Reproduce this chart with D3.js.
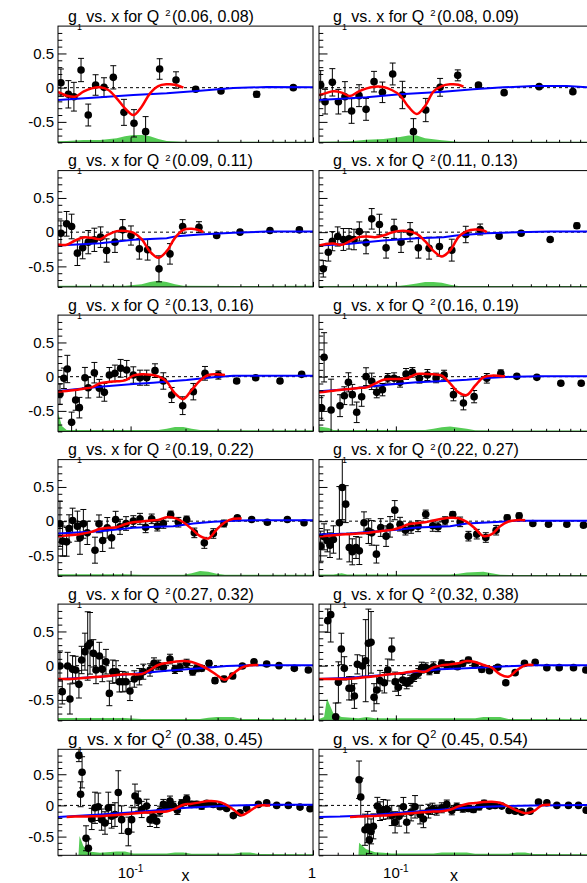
<!DOCTYPE html>
<html>
<head>
<meta charset="utf-8">
<script src="https://cdn.jsdelivr.net/npm/d3@7"></script>
<style>
  body { margin: 0; background: #fff; }
  svg { display: block; }
</style>
</head>
<body>
<svg id="chart" width="587" height="883"></svg>
<script>
// Q^2 bins, one panel each (GeV^2)
const q2Bins = [[0.06,0.08],[0.08,0.09],[0.09,0.11],[0.11,0.13],[0.13,0.16],[0.16,0.19],
                [0.19,0.22],[0.22,0.27],[0.27,0.32],[0.32,0.38],[0.38,0.45],[0.45,0.54]];

// measured g1 points: [x, g1, stat. error]
const points_1 = [[0.0415,0.073,0.20],[0.0456,-0.097,0.20],[0.0489,-0.132,0.21],[0.0535,0.258,0.17],[0.0586,-0.400,0.16],[0.0643,0.039,0.15],[0.0715,0.005,0.14],[0.0804,0.151,0.17],[0.0920,-0.361,0.19],[0.1044,-0.521,0.20],[0.1209,-0.643,0.22],[0.1443,0.273,0.15],[0.1774,0.112,0.12],[0.2275,-0.024,0.03],[0.313,-0.049,0.03],[0.491,-0.097,0.04],[0.780,0.0,0.03]];
const points_2 = [[0.0408,0.039,0.21],[0.0430,-0.205,0.18],[0.0469,0.078,0.20],[0.0504,-0.205,0.18],[0.0545,-0.132,0.22],[0.0590,-0.341,0.18],[0.0645,-0.117,0.16],[0.0701,-0.317,0.16],[0.0771,0.088,0.15],[0.0852,-0.068,0.15],[0.0963,0.200,0.16],[0.1081,-0.107,0.20],[0.1233,-0.643,0.19],[0.1428,-0.327,0.17],[0.1694,0.005,0.13],[0.2092,0.180,0.08],[0.2677,0.039,0.03],[0.3636,-0.073,0.03],[0.552,0.015,0.03],[0.825,-0.058,0.03]];
const points_3 = [[0.0415,-0.015,0.18],[0.0446,0.122,0.18],[0.0475,0.083,0.18],[0.0511,-0.307,0.18],[0.0546,-0.229,0.16],[0.0586,-0.146,0.17],[0.0633,-0.112,0.17],[0.0685,-0.073,0.15],[0.0739,-0.268,0.17],[0.0821,-0.146,0.15],[0.0905,0.034,0.15],[0.1005,-0.049,0.14],[0.1117,-0.244,0.15],[0.124,-0.258,0.15],[0.1431,-0.536,0.19],[0.1644,-0.317,0.15],[0.1929,0.083,0.10],[0.2371,0.073,0.08],[0.2964,-0.049,0.03],[0.398,0.0,0.03],[0.581,0.024,0.03],[0.842,0.034,0.03]];
const points_4 = [[0.0421,-0.536,0.12],[0.0447,-0.293,0.13],[0.0469,-0.132,0.14],[0.0500,-0.063,0.14],[0.0535,-0.107,0.16],[0.0572,-0.097,0.15],[0.0607,-0.107,0.15],[0.0647,0.010,0.14],[0.0701,-0.156,0.16],[0.0750,0.195,0.15],[0.0822,0.112,0.15],[0.0890,-0.229,0.15],[0.0979,0.049,0.14],[0.1064,-0.146,0.15],[0.1185,0.0,0.14],[0.1308,-0.229,0.15],[0.1486,-0.234,0.16],[0.1681,-0.210,0.14],[0.1948,-0.263,0.16],[0.2301,-0.034,0.12],[0.2731,0.039,0.08],[0.3425,-0.058,0.03],[0.4453,-0.015,0.03],[0.6295,-0.107,0.03],[0.8652,0.093,0.04]];
const points_5 = [[0.0410,-0.253,0.15],[0.0431,-0.024,0.15],[0.0450,0.112,0.20],[0.0475,-0.668,0.15],[0.0500,-0.341,0.15],[0.0524,-0.453,0.15],[0.0562,-0.015,0.15],[0.0586,-0.161,0.15],[0.0633,0.058,0.15],[0.0674,-0.170,0.13],[0.0718,-0.229,0.13],[0.0765,0.024,0.11],[0.0821,0.049,0.12],[0.0882,0.122,0.13],[0.0952,0.097,0.14],[0.1035,0.024,0.12],[0.1126,-0.015,0.11],[0.1225,-0.015,0.11],[0.1361,0.088,0.10],[0.1512,-0.063,0.12],[0.1680,-0.268,0.11],[0.1930,-0.424,0.13],[0.2208,-0.219,0.12],[0.2558,0.049,0.10],[0.3027,0.024,0.06],[0.3815,-0.063,0.03],[0.485,-0.015,0.03],[0.6594,-0.063,0.03],[0.8667,0.034,0.03]];
const points_6 = [[0.0413,-0.458,0.18],[0.0425,0.283,0.36],[0.0462,-0.487,0.45],[0.0514,-0.424,0.16],[0.0541,-0.278,0.13],[0.0568,-0.083,0.14],[0.0595,-0.263,0.15],[0.0627,-0.521,0.15],[0.0665,-0.293,0.14],[0.0701,0.0,0.13],[0.0750,-0.068,0.12],[0.0796,-0.229,0.08],[0.0852,-0.190,0.09],[0.0908,-0.024,0.07],[0.0979,-0.024,0.08],[0.1051,-0.083,0.07],[0.1129,0.039,0.08],[0.1218,0.063,0.07],[0.1324,-0.024,0.07],[0.1457,0.024,0.08],[0.1615,-0.019,0.07],[0.1777,0.024,0.07],[0.1987,-0.263,0.09],[0.2238,-0.385,0.10],[0.2542,-0.292,0.09],[0.2957,-0.024,0.07],[0.3494,0.049,0.05],[0.4230,0.005,0.03],[0.537,-0.010,0.03],[0.7149,-0.097,0.03],[0.9112,-0.097,0.03]];
const points_7 = [[0.0410,-0.039,0.33],[0.0424,-0.292,0.22],[0.0446,-0.302,0.21],[0.0460,-0.107,0.20],[0.0481,0.010,0.18],[0.0511,-0.073,0.22],[0.0528,-0.244,0.24],[0.0551,-0.039,0.21],[0.0579,-0.171,0.17],[0.0638,-0.424,0.19],[0.0671,-0.039,0.13],[0.0703,-0.283,0.16],[0.0745,-0.097,0.15],[0.0787,-0.244,0.15],[0.0828,0.024,0.12],[0.0875,-0.083,0.11],[0.0944,-0.034,0.10],[0.1035,0.0,0.08],[0.1126,0.034,0.08],[0.1209,-0.088,0.08],[0.1305,0.034,0.07],[0.1402,-0.073,0.07],[0.1512,-0.034,0.07],[0.1658,0.097,0.05],[0.1827,-0.015,0.07],[0.2029,0.024,0.05],[0.2236,-0.171,0.07],[0.2537,-0.317,0.08],[0.2842,-0.180,0.07],[0.3252,-0.034,0.05],[0.3848,0.049,0.03],[0.4611,0.024,0.03],[0.5619,-0.015,0.03],[0.7234,0.024,0.03],[0.8928,-0.024,0.03]];
const points_8 = [[0.0408,-0.366,0.22],[0.0425,-0.229,0.19],[0.0442,-0.288,0.16],[0.0456,-0.351,0.18],[0.0475,-0.268,0.20],[0.0510,-0.024,0.53],[0.0528,0.492,0.47],[0.0550,0.249,0.27],[0.0574,-0.385,0.21],[0.0595,-0.448,0.19],[0.0622,-0.385,0.16],[0.0647,-0.434,0.20],[0.0684,-0.024,0.16],[0.0721,-0.146,0.18],[0.0750,-0.171,0.18],[0.0793,-0.482,0.13],[0.0835,-0.093,0.13],[0.0890,-0.219,0.15],[0.0933,-0.083,0.15],[0.0987,0.161,0.14],[0.1051,-0.044,0.10],[0.1121,-0.132,0.07],[0.1199,-0.097,0.08],[0.1303,-0.073,0.08],[0.1428,0.102,0.06],[0.1552,-0.068,0.08],[0.1654,-0.083,0.07],[0.1798,0.005,0.06],[0.1970,0.097,0.04],[0.2151,-0.010,0.07],[0.2376,-0.219,0.07],[0.2624,-0.190,0.07],[0.2922,-0.239,0.07],[0.3305,-0.132,0.07],[0.3770,0.049,0.04],[0.4348,0.078,0.04],[0.5119,-0.034,0.03],[0.6171,-0.044,0.03],[0.7678,-0.044,0.03],[0.9367,-0.058,0.03]];
const points_9 = [[0.0410,-0.005,0.22],[0.0422,-0.380,0.18],[0.0452,-0.005,0.20],[0.0465,-0.487,0.22],[0.0481,-0.054,0.20],[0.0500,-0.063,0.20],[0.0521,-0.273,0.20],[0.0539,0.083,0.20],[0.0562,0.205,0.27],[0.0582,0.288,0.50],[0.0599,0.327,0.45],[0.0625,0.180,0.20],[0.0646,-0.063,0.20],[0.0674,0.141,0.20],[0.0700,-0.054,0.18],[0.0733,0.058,0.18],[0.0765,-0.405,0.18],[0.0798,-0.088,0.17],[0.0832,-0.088,0.16],[0.0868,-0.234,0.15],[0.0905,-0.234,0.15],[0.0944,-0.234,0.14],[0.0992,-0.370,0.14],[0.1048,-0.195,0.12],[0.1117,-0.161,0.12],[0.1174,-0.088,0.11],[0.1278,-0.063,0.09],[0.1344,0.034,0.08],[0.1419,0.010,0.07],[0.1512,-0.024,0.06],[0.1644,0.097,0.07],[0.1751,-0.054,0.06],[0.1866,-0.024,0.06],[0.2029,0.034,0.06],[0.2189,-0.088,0.05],[0.2302,-0.039,0.05],[0.2453,-0.039,0.04],[0.2691,0.034,0.04],[0.2902,-0.219,0.04],[0.3252,-0.195,0.04],[0.3628,-0.151,0.04],[0.4100,-0.005,0.03],[0.4749,0.058,0.03],[0.5572,0.024,0.03],[0.6511,0.0,0.03],[0.7900,-0.039,0.03],[0.9428,-0.063,0.03]];
const points_10 = [[0.0444,0.658,0.17],[0.0460,0.746,0.40],[0.0488,-0.746,0.20],[0.0504,-0.244,0.30],[0.0522,0.244,0.23],[0.0541,-0.039,0.17],[0.0572,-0.331,0.17],[0.0590,-0.331,0.17],[0.0610,-0.444,0.18],[0.0632,0.019,0.14],[0.0671,-0.005,0.15],[0.0698,0.073,0.60],[0.0721,0.327,0.50],[0.0744,0.341,0.45],[0.0771,-0.463,0.20],[0.0796,-0.356,0.20],[0.0828,-0.219,0.15],[0.0872,-0.249,0.15],[0.0908,-0.063,0.16],[0.0952,0.244,0.16],[0.0991,-0.234,0.14],[0.1031,-0.317,0.12],[0.1085,-0.209,0.08],[0.1138,-0.258,0.08],[0.1185,-0.219,0.08],[0.1243,-0.161,0.07],[0.1308,-0.112,0.07],[0.1361,-0.029,0.08],[0.1428,-0.029,0.07],[0.1492,-0.073,0.06],[0.1565,-0.015,0.07],[0.1628,-0.063,0.05],[0.1728,0.034,0.05],[0.1835,0.010,0.05],[0.1948,0.019,0.04],[0.2084,-0.015,0.04],[0.2221,0.034,0.04],[0.2376,0.083,0.04],[0.2573,0.010,0.04],[0.2786,-0.054,0.04],[0.3053,-0.073,0.03],[0.3372,-0.024,0.03],[0.3709,-0.249,0.03],[0.4146,-0.102,0.03],[0.4634,0.034,0.03],[0.5264,0.049,0.03],[0.6050,-0.029,0.03],[0.7008,-0.029,0.03],[0.8314,-0.029,0.03],[0.9632,-0.063,0.03]];
const points_11 = [[0.0521,0.802,0.10],[0.0532,0.179,0.20],[0.0542,0.531,0.25],[0.0570,-0.527,0.20],[0.0587,-0.688,0.15],[0.0612,-0.217,0.17],[0.0638,-0.038,0.25],[0.0665,-0.022,0.22],[0.0694,-0.228,0.17],[0.0724,-0.282,0.18],[0.0755,-0.038,0.25],[0.0787,-0.174,0.19],[0.0821,-0.147,0.19],[0.0856,0.206,0.35],[0.0893,-0.228,0.22],[0.0972,-0.418,0.23],[0.1013,-0.228,0.20],[0.1057,0.152,0.19],[0.1102,0.070,0.16],[0.1150,-0.065,0.13],[0.1225,-0.011,0.11],[0.1278,-0.228,0.11],[0.1332,-0.184,0.10],[0.1390,-0.255,0.10],[0.1449,-0.092,0.08],[0.1512,0.016,0.08],[0.1577,-0.022,0.07],[0.1644,0.070,0.08],[0.1715,-0.011,0.07],[0.1804,-0.076,0.07],[0.1905,0.033,0.06],[0.2029,0.108,0.06],[0.2161,0.016,0.05],[0.2302,0.016,0.05],[0.2453,-0.011,0.05],[0.2612,0.033,0.04],[0.2842,0.016,0.04],[0.3091,-0.022,0.04],[0.3363,-0.049,0.03],[0.3658,-0.163,0.03],[0.3979,-0.119,0.03],[0.4328,-0.049,0.03],[0.5015,0.016,0.03],[0.5572,0.043,0.03],[0.6322,0.0,0.03],[0.7326,0.0,0.03],[0.8488,-0.027,0.03],[0.9630,-0.054,0.03]];
const points_12 = [[0.0645,0.412,0.30],[0.0658,0.136,0.30],[0.0692,-0.390,0.25],[0.0715,-0.347,0.25],[0.0729,-0.553,0.22],[0.0744,-0.417,0.20],[0.0765,-0.336,0.20],[0.0802,-0.011,0.14],[0.0828,-0.092,0.15],[0.0862,-0.065,0.16],[0.0904,-0.065,0.15],[0.0952,-0.163,0.16],[0.0991,-0.271,0.17],[0.1039,-0.173,0.16],[0.1094,-0.022,0.15],[0.1138,-0.271,0.17],[0.1199,-0.108,0.14],[0.1257,-0.022,0.18],[0.1335,-0.147,0.15],[0.1389,-0.217,0.14],[0.1474,-0.092,0.11],[0.1546,-0.054,0.09],[0.1628,-0.076,0.08],[0.1729,-0.038,0.08],[0.1835,0.016,0.07],[0.1948,-0.081,0.07],[0.2067,-0.022,0.06],[0.2221,-0.049,0.06],[0.2376,-0.049,0.05],[0.2522,-0.065,0.05],[0.2698,-0.022,0.05],[0.2864,0.033,0.05],[0.3053,-0.011,0.04],[0.3266,0.0,0.04],[0.3536,-0.011,0.03],[0.3859,-0.081,0.03],[0.4146,-0.092,0.03],[0.4488,-0.108,0.03],[0.4958,-0.092,0.03],[0.5477,0.054,0.03],[0.6050,0.043,0.03],[0.6816,0.0,0.03],[0.7832,0.0,0.03],[0.8826,0.0,0.03],[0.9672,-0.076,0.03]];

// resonance-region fit (red): [x, g1]
const redCurve_1 = [[0.040,-0.063],[0.0446,-0.117],[0.0496,-0.132],[0.0551,-0.058],[0.0612,-0.010],[0.0680,0.005],[0.0755,-0.034],[0.0839,-0.156],[0.0932,-0.302],[0.1035,-0.400],[0.1150,-0.278],[0.1278,-0.083],[0.1419,0.024],[0.1577,0.049],[0.1751,0.044],[0.1946,0.0]];
const redCurve_2 = [[0.040,-0.107],[0.0430,-0.083],[0.0475,-0.054],[0.0524,-0.073],[0.0579,-0.122],[0.0640,-0.058],[0.0706,-0.010],[0.0780,0.015],[0.0862,0.010],[0.0952,-0.034],[0.1051,-0.112],[0.1161,-0.278],[0.1283,-0.385],[0.1417,-0.268],[0.1565,-0.058],[0.1729,0.024],[0.1909,0.049],[0.2109,0.044],[0.2238,0.015]];
const redCurve_3 = [[0.040,-0.180],[0.0446,-0.185],[0.0496,-0.122],[0.0551,-0.078],[0.0612,-0.083],[0.0680,-0.102],[0.0755,-0.034],[0.0839,0.015],[0.0932,0.019],[0.1035,-0.005],[0.1150,-0.102],[0.1278,-0.283],[0.1419,-0.375],[0.1577,-0.278],[0.1751,-0.083],[0.1946,0.034],[0.2161,0.049],[0.2402,0.024],[0.2505,0.0]];
const redCurve_4 = [[0.040,-0.195],[0.0430,-0.175],[0.0475,-0.166],[0.0524,-0.185],[0.0579,-0.132],[0.0640,-0.073],[0.0706,-0.063],[0.0780,-0.073],[0.0862,-0.049],[0.0952,-0.005],[0.1051,0.019],[0.1161,0.015],[0.1283,-0.024],[0.1417,-0.132],[0.1565,-0.273],[0.1729,-0.356],[0.1909,-0.268],[0.2109,-0.073],[0.2329,0.015],[0.2573,0.039],[0.2841,0.024],[0.2957,0.0]];
const redCurve_5 = [[0.040,-0.219],[0.0446,-0.210],[0.0496,-0.195],[0.0551,-0.175],[0.0612,-0.156],[0.0680,-0.097],[0.0755,-0.078],[0.0839,-0.068],[0.0932,-0.054],[0.1035,0.015],[0.1150,0.034],[0.1278,0.029],[0.1419,0.005],[0.1577,-0.073],[0.1751,-0.244],[0.1946,-0.327],[0.2161,-0.195],[0.2402,-0.058],[0.2668,0.024],[0.2964,0.034],[0.3292,0.024]];
const redCurve_6 = [[0.040,-0.229],[0.0430,-0.219],[0.0475,-0.205],[0.0524,-0.190],[0.0579,-0.180],[0.0640,-0.166],[0.0706,-0.156],[0.0780,-0.102],[0.0862,-0.044],[0.0952,-0.034],[0.1051,-0.034],[0.1161,-0.015],[0.1283,0.039],[0.1417,0.039],[0.1565,0.034],[0.1729,0.015],[0.1909,-0.097],[0.2109,-0.229],[0.2329,-0.268],[0.2573,-0.132],[0.2841,-0.010],[0.3139,0.015],[0.3467,0.010],[0.3680,0.005]];
const redCurve_7 = [[0.040,-0.219],[0.0446,-0.210],[0.0496,-0.200],[0.0551,-0.180],[0.0612,-0.156],[0.0680,-0.112],[0.0755,-0.097],[0.0839,-0.088],[0.0932,-0.044],[0.1035,-0.015],[0.1150,-0.005],[0.1278,0.010],[0.1419,0.019],[0.1577,0.058],[0.1751,0.044],[0.1946,-0.015],[0.2161,-0.112],[0.2402,-0.219],[0.2668,-0.253],[0.2964,-0.122],[0.3292,-0.015],[0.3658,0.034],[0.4064,0.039]];
const redCurve_8 = [[0.040,-0.219],[0.0430,-0.215],[0.0475,-0.205],[0.0524,-0.195],[0.0579,-0.190],[0.0640,-0.180],[0.0706,-0.171],[0.0780,-0.156],[0.0862,-0.141],[0.0952,-0.127],[0.1051,-0.093],[0.1161,-0.044],[0.1283,-0.029],[0.1417,-0.015],[0.1565,0.010],[0.1729,0.034],[0.1909,0.049],[0.2109,0.044],[0.2329,-0.010],[0.2573,-0.107],[0.2841,-0.219],[0.3139,-0.190],[0.3467,-0.073],[0.3829,-0.005],[0.4230,0.015],[0.4672,0.015]];
const redCurve_9 = [[0.040,-0.195],[0.0446,-0.195],[0.0496,-0.190],[0.0551,-0.180],[0.0612,-0.171],[0.0680,-0.161],[0.0755,-0.151],[0.0839,-0.136],[0.0932,-0.127],[0.1035,-0.127],[0.1150,-0.122],[0.1278,-0.063],[0.1419,0.010],[0.1577,0.039],[0.1751,0.058],[0.1946,0.068],[0.2161,0.054],[0.2402,0.010],[0.2668,-0.054],[0.2964,-0.136],[0.3292,-0.205],[0.3658,-0.112],[0.4064,-0.029],[0.4515,0.005],[0.5015,0.010]];
const redCurve_10 = [[0.040,-0.195],[0.0430,-0.195],[0.0475,-0.195],[0.0524,-0.195],[0.0579,-0.190],[0.0640,-0.180],[0.0706,-0.166],[0.0780,-0.156],[0.0862,-0.136],[0.0952,-0.122],[0.1051,-0.112],[0.1161,-0.093],[0.1283,-0.078],[0.1417,-0.088],[0.1565,-0.024],[0.1729,0.005],[0.1909,0.019],[0.2109,0.034],[0.2329,0.068],[0.2573,0.054],[0.2841,0.010],[0.3139,-0.029],[0.3467,-0.127],[0.3829,-0.161],[0.4230,-0.068],[0.4672,0.005],[0.5160,0.010]];
const redCurve_11 = [[0.0446,-0.184],[0.0496,-0.179],[0.0551,-0.179],[0.0612,-0.173],[0.0680,-0.173],[0.0755,-0.163],[0.0839,-0.152],[0.0932,-0.141],[0.1035,-0.130],[0.1150,-0.119],[0.1278,-0.108],[0.1419,-0.103],[0.1577,-0.098],[0.1751,-0.054],[0.1946,0.011],[0.2161,0.027],[0.2402,0.049],[0.2668,0.070],[0.2964,0.065],[0.3292,0.022],[0.3658,-0.065],[0.4064,-0.157],[0.4515,-0.087],[0.5015,-0.005],[0.5572,0.0],[0.5817,0.0]];
const redCurve_12 = [[0.0579,-0.184],[0.0640,-0.179],[0.0706,-0.173],[0.0780,-0.168],[0.0862,-0.163],[0.0952,-0.152],[0.1051,-0.141],[0.1161,-0.130],[0.1283,-0.119],[0.1417,-0.108],[0.1565,-0.098],[0.1729,-0.092],[0.1909,-0.070],[0.2109,-0.016],[0.2329,0.022],[0.2573,0.038],[0.2841,0.054],[0.3139,0.060],[0.3467,0.043],[0.3829,-0.016],[0.4230,-0.081],[0.4672,-0.125],[0.5160,-0.092],[0.5700,0.0],[0.6295,0.011]];

// smooth model (blue): [x, g1]
const blueCurve_1 = [[0.040,-0.180],[0.0680,-0.141],[0.1035,-0.107],[0.1577,-0.083],[0.2402,-0.044],[0.3658,-0.005],[0.5572,0.010],[1.0,0.005]];
const blueCurve_2 = [[0.040,-0.180],[0.0706,-0.141],[0.1051,-0.097],[0.1763,-0.058],[0.2522,-0.024],[0.3607,0.005],[0.5160,0.024],[0.7678,0.024],[1.0,0.005]];
const blueCurve_3 = [[0.040,-0.195],[0.0680,-0.161],[0.1035,-0.112],[0.1577,-0.088],[0.1789,-0.058],[0.2402,-0.034],[0.3658,-0.010],[0.5572,0.010],[1.0,0.010]];
const blueCurve_4 = [[0.040,-0.195],[0.0579,-0.171],[0.0862,-0.122],[0.1283,-0.088],[0.1763,-0.073],[0.2054,-0.049],[0.2957,-0.015],[0.4230,0.0],[0.6295,0.010],[1.0,0.010]];
const blueCurve_5 = [[0.040,-0.210],[0.0680,-0.146],[0.1035,-0.107],[0.1332,-0.088],[0.1715,-0.063],[0.2029,-0.049],[0.2842,-0.010],[0.3658,0.015],[1.0,0.015]];
const blueCurve_6 = [[0.040,-0.214],[0.0579,-0.180],[0.0862,-0.122],[0.1283,-0.083],[0.1909,-0.058],[0.2329,-0.044],[0.2957,-0.019],[0.4064,0.0],[0.5588,0.005],[1.0,0.005]];
const blueCurve_7 = [[0.040,-0.180],[0.0680,-0.146],[0.1035,-0.097],[0.1390,-0.083],[0.1715,-0.073],[0.2208,-0.034],[0.2842,-0.010],[0.3979,0.010],[0.5572,0.015],[1.0,0.015]];
const blueCurve_8 = [[0.040,-0.195],[0.0579,-0.180],[0.0862,-0.141],[0.1051,-0.122],[0.1283,-0.093],[0.1909,-0.073],[0.2329,-0.034],[0.2957,-0.019],[0.4230,0.005],[1.0,0.005]];
const blueCurve_9 = [[0.040,-0.200],[0.0680,-0.161],[0.1126,-0.112],[0.1577,-0.073],[0.2029,-0.054],[0.2612,-0.029],[0.3363,-0.005],[0.4515,0.005],[1.0,0.005]];
const blueCurve_10 = [[0.040,-0.195],[0.0579,-0.175],[0.0862,-0.136],[0.1283,-0.088],[0.1694,-0.054],[0.2329,-0.039],[0.2957,-0.024],[0.3753,-0.010],[0.5160,0.005],[1.0,0.005]];
const blueCurve_11 = [[0.040,-0.184],[0.0680,-0.146],[0.1035,-0.108],[0.1577,-0.065],[0.2029,-0.038],[0.2612,-0.022],[0.3658,0.0],[0.5572,0.011],[1.0,0.011]];
const blueCurve_12 = [[0.040,-0.184],[0.0514,-0.179],[0.0706,-0.163],[0.1051,-0.119],[0.1565,-0.076],[0.2329,-0.038],[0.2957,-0.022],[0.3753,-0.011],[0.5160,0.0],[1.0,0.005]];

// systematic uncertainty band (green), height above the axis floor: [x, size]
const sysBand_1 = [[0.040,0.015],[0.0446,0.02],[0.0551,0.035],[0.0680,0.035],[0.0839,0.06],[0.0932,0.09],[0.1035,0.11],[0.1150,0.11],[0.1278,0.09],[0.1419,0.05],[0.1577,0.02],[0.1946,0.01],[1.0,0.01]];
const sysBand_2 = [[0.040,0.01],[0.0579,0.015],[0.0706,0.04],[0.0862,0.05],[0.1051,0.08],[0.1161,0.10],[0.1283,0.10],[0.1417,0.06],[0.1729,0.03],[0.2109,0.01],[1.0,0.01]];
const sysBand_3 = [[0.040,0.015],[0.0932,0.015],[0.1150,0.04],[0.1278,0.07],[0.1419,0.09],[0.1577,0.07],[0.1751,0.04],[0.1946,0.015],[0.4,0.012],[1.0,0.015]];
const sysBand_4 = [[0.040,0.012],[0.1051,0.015],[0.1161,0.03],[0.1283,0.05],[0.1417,0.07],[0.1565,0.07],[0.1729,0.06],[0.1909,0.03],[0.2109,0.012],[1.0,0.012]];
const sysBand_5 = [[0.040,0.28],[0.0420,0.08],[0.0446,0.02],[0.1419,0.02],[0.1577,0.04],[0.1751,0.065],[0.1946,0.065],[0.2161,0.04],[0.2402,0.02],[1.0,0.015]];
const sysBand_6 = [[0.040,0.07],[0.0450,0.05],[0.0475,0.02],[0.1417,0.02],[0.1565,0.04],[0.1729,0.06],[0.1909,0.07],[0.2329,0.04],[0.2573,0.015],[1.0,0.012]];
const sysBand_7 = [[0.040,0.025],[0.0932,0.025],[0.1150,0.015],[0.1946,0.015],[0.2161,0.04],[0.2402,0.07],[0.2668,0.06],[0.2964,0.03],[0.3292,0.015],[1.0,0.015]];
const sysBand_8 = [[0.040,0.02],[0.0475,0.02],[0.0524,0.04],[0.0560,0.02],[0.1909,0.02],[0.2109,0.03],[0.2329,0.05],[0.2841,0.06],[0.3139,0.04],[0.3467,0.015],[1.0,0.012]];
const sysBand_9 = [[0.040,0.035],[0.0932,0.035],[0.1150,0.02],[0.2402,0.02],[0.2668,0.04],[0.2964,0.05],[0.3658,0.05],[0.4064,0.02],[1.0,0.015]];
const sysBand_10 = [[0.040,0.02],[0.0425,0.05],[0.0440,0.32],[0.0475,0.10],[0.0524,0.05],[0.0640,0.03],[0.0706,0.05],[0.0780,0.03],[0.2573,0.03],[0.2841,0.05],[0.3467,0.05],[0.3829,0.02],[1.0,0.015]];
const sysBand_11 = [[0.0518,0.0],[0.0525,0.31],[0.0551,0.15],[0.0590,0.06],[0.0680,0.04],[0.0839,0.06],[0.0932,0.06],[0.1035,0.03],[0.1577,0.03],[0.1751,0.045],[0.1946,0.045],[0.2161,0.025],[0.3658,0.025],[0.4064,0.045],[0.4515,0.045],[0.5015,0.02],[1.0,0.015]];
const sysBand_12 = [[0.0640,0.0],[0.0645,0.20],[0.0700,0.10],[0.0780,0.05],[0.0862,0.04],[0.0952,0.03],[0.1565,0.03],[0.1729,0.045],[0.2329,0.045],[0.2573,0.025],[0.3829,0.025],[0.4230,0.045],[0.4672,0.045],[0.5160,0.02],[1.0,0.015]];

// axis ticks
const xMajorTicks = [0.1, 1];
const xMinorTicks = [0.05,0.06,0.07,0.08,0.09,0.2,0.3,0.4,0.5,0.6,0.7,0.8,0.9];
const yMajorTicks = [-0.5, 0, 0.5];
const yMinorTicks = [-0.8,-0.7,-0.6,-0.4,-0.3,-0.2,-0.1,0.1,0.2,0.3,0.4,0.6,0.7,0.8];

const allPoints = [points_1,points_2,points_3,points_4,points_5,points_6,points_7,points_8,points_9,points_10,points_11,points_12];
const allRed = [redCurve_1,redCurve_2,redCurve_3,redCurve_4,redCurve_5,redCurve_6,redCurve_7,redCurve_8,redCurve_9,redCurve_10,redCurve_11,redCurve_12];
const allBlue = [blueCurve_1,blueCurve_2,blueCurve_3,blueCurve_4,blueCurve_5,blueCurve_6,blueCurve_7,blueCurve_8,blueCurve_9,blueCurve_10,blueCurve_11,blueCurve_12];
const allSys = [sysBand_1,sysBand_2,sysBand_3,sysBand_4,sysBand_5,sysBand_6,sysBand_7,sysBand_8,sysBand_9,sysBand_10,sysBand_11,sysBand_12];

// pad geometry
const FONT = "'Liberation Sans', Arial, Helvetica, sans-serif";
const colRange = [[58, 313], [319, 589]];
const rowRange = [[26.1,142.4],[170.6,286.9],[315.1,431.4],[459.6,575.9],[604.1,720.4],[749.3,855.3]];
const xDomain = [0.04, 1], yDomain = [-0.8, 0.9];
const fmt = d3.format(".2f");

const svg = d3.select("#chart");
const defs = svg.append("defs");

q2Bins.forEach((bin, i) => {
  const row = Math.floor(i / 2), col = i % 2;
  const [x0, x1] = colRange[col];
  const [y0, y1] = rowRange[row];
  const isBottom = row === 5;
  const x = d3.scaleLog().domain(xDomain).range([x0, x1]);
  const y = d3.scaleLinear().domain(yDomain).range([y1, y0]);

  defs.append("clipPath").attr("id", "clip" + i)
    .append("rect").attr("x", x0).attr("y", y0).attr("width", x1 - x0).attr("height", y1 - y0);

  const pad = svg.append("g");
  const plot = pad.append("g").attr("clip-path", `url(#clip${i})`);

  // systematic band
  plot.append("path").datum(allSys[i])
    .attr("fill", "#55cc55")
    .attr("d", d3.area().x(d => x(d[0])).y0(y(-0.8)).y1(d => y(-0.8 + d[1])));

  // g1 = 0 reference
  plot.append("line")
    .attr("x1", x0).attr("x2", x1).attr("y1", y(0)).attr("y2", y(0))
    .attr("stroke", "#000").attr("stroke-width", 1).attr("stroke-dasharray", "3,3");

  // data with error bars
  const pts = plot.append("g");
  pts.selectAll("line.err").data(allPoints[i]).join("line").attr("class", "err")
    .attr("x1", d => x(d[0])).attr("x2", d => x(d[0]))
    .attr("y1", d => y(d[1] - d[2])).attr("y2", d => y(d[1] + d[2]))
    .attr("stroke", "#000").attr("stroke-width", 1);
  [-1, 1].forEach(s => {
    pts.selectAll("line.cap" + (s > 0 ? "p" : "m")).data(allPoints[i]).join("line")
      .attr("class", "cap" + (s > 0 ? "p" : "m"))
      .attr("x1", d => x(d[0]) - 3).attr("x2", d => x(d[0]) + 3)
      .attr("y1", d => y(d[1] + s * d[2])).attr("y2", d => y(d[1] + s * d[2]))
      .attr("stroke", "#000").attr("stroke-width", 1);
  });
  pts.selectAll("circle").data(allPoints[i]).join("circle")
    .attr("cx", d => x(d[0])).attr("cy", d => y(d[1])).attr("r", 3.8).attr("fill", "#000");

  // model curves
  plot.append("path").datum(allBlue[i])
    .attr("fill", "none").attr("stroke", "#0000ff").attr("stroke-width", 2)
    .attr("d", d3.line().x(d => x(d[0])).y(d => y(d[1])));
  plot.append("path").datum(allRed[i])
    .attr("fill", "none").attr("stroke", "#ff0000").attr("stroke-width", 2.5)
    .attr("d", d3.line().curve(d3.curveCatmullRom.alpha(0.5)).x(d => x(d[0])).y(d => y(d[1])));

  // frame
  pad.append("rect").attr("x", x0).attr("y", y0).attr("width", x1 - x0).attr("height", y1 - y0)
    .attr("fill", "none").attr("stroke", "#000").attr("stroke-width", 1);

  // y axis: major and minor ticks drawn inward
  const yMaj = pad.append("g").attr("transform", `translate(${x0},0)`)
    .call(d3.axisLeft(y).tickValues(yMajorTicks).tickSizeInner(-8.5).tickSizeOuter(0).tickPadding(4)
      .tickFormat(d => col === 0 ? String(d) : ""));
  const yMin = pad.append("g").attr("transform", `translate(${x0},0)`)
    .call(d3.axisLeft(y).tickValues(yMinorTicks).tickSizeInner(-4.3).tickSizeOuter(0).tickFormat(""));
  // x axis ticks
  const xMaj = pad.append("g").attr("transform", `translate(0,${y1})`)
    .call(d3.axisBottom(x).tickValues(xMajorTicks).tickSizeInner(-5).tickSizeOuter(0).tickFormat(""));
  const xMin = pad.append("g").attr("transform", `translate(0,${y1})`)
    .call(d3.axisBottom(x).tickValues(xMinorTicks).tickSizeInner(-2.6).tickSizeOuter(0).tickFormat(""));
  [yMaj, yMin, xMaj, xMin].forEach(a => {
    a.select(".domain").remove();
    a.selectAll("line").attr("stroke", "#000");
    a.selectAll("text").attr("font-family", FONT).attr("font-size", 15).attr("fill", "#000");
  });

  // x tick labels and title on the bottom row
  if (isBottom) {
    const lab = pad.append("g").attr("font-family", FONT).attr("fill", "#000").attr("text-anchor", "middle");
    const t = lab.append("text").attr("x", x(0.1)).attr("y", y1 + 22.5).attr("font-size", 15);
    t.append("tspan").text("10");
    t.append("tspan").attr("font-size", 10).attr("dy", -6).text("-1");
    if (col === 0) {
      lab.append("text").attr("x", x(1) - 1).attr("y", y1 + 22.5).attr("font-size", 15).text("1");
    }
    lab.append("text").attr("x", (x0 + x1) / 2).attr("y", y1 + 26).attr("font-size", 16).text("x");
  }

  // pad title
  const big = isBottom;
  const fs = big ? 17 : 16;
  const title = pad.append("text")
    .attr("x", col === 0 ? 68 : 333).attr("y", y0 - 4.3)
    .attr("font-family", FONT).attr("font-size", fs).attr("fill", "#000");
  title.append("tspan").text("g");
  title.append("tspan").attr("font-size", 9).attr("dy", 8).text("1");
  title.append("tspan").attr("dy", -8).text(" vs. x for Q");
  title.append("tspan").attr("font-size", big ? 11 : 9.5).attr("dx", big ? 0.5 : 6).attr("dy", big ? -7 : -5.5).text("2");
  title.append("tspan").attr("dy", big ? 7 : 5.5).attr("dx", big ? 0 : 1.5)
    .text((big ? " " : "") + `(${fmt(bin[0])}, ${fmt(bin[1])})`);
});
</script>
</body>
</html>
